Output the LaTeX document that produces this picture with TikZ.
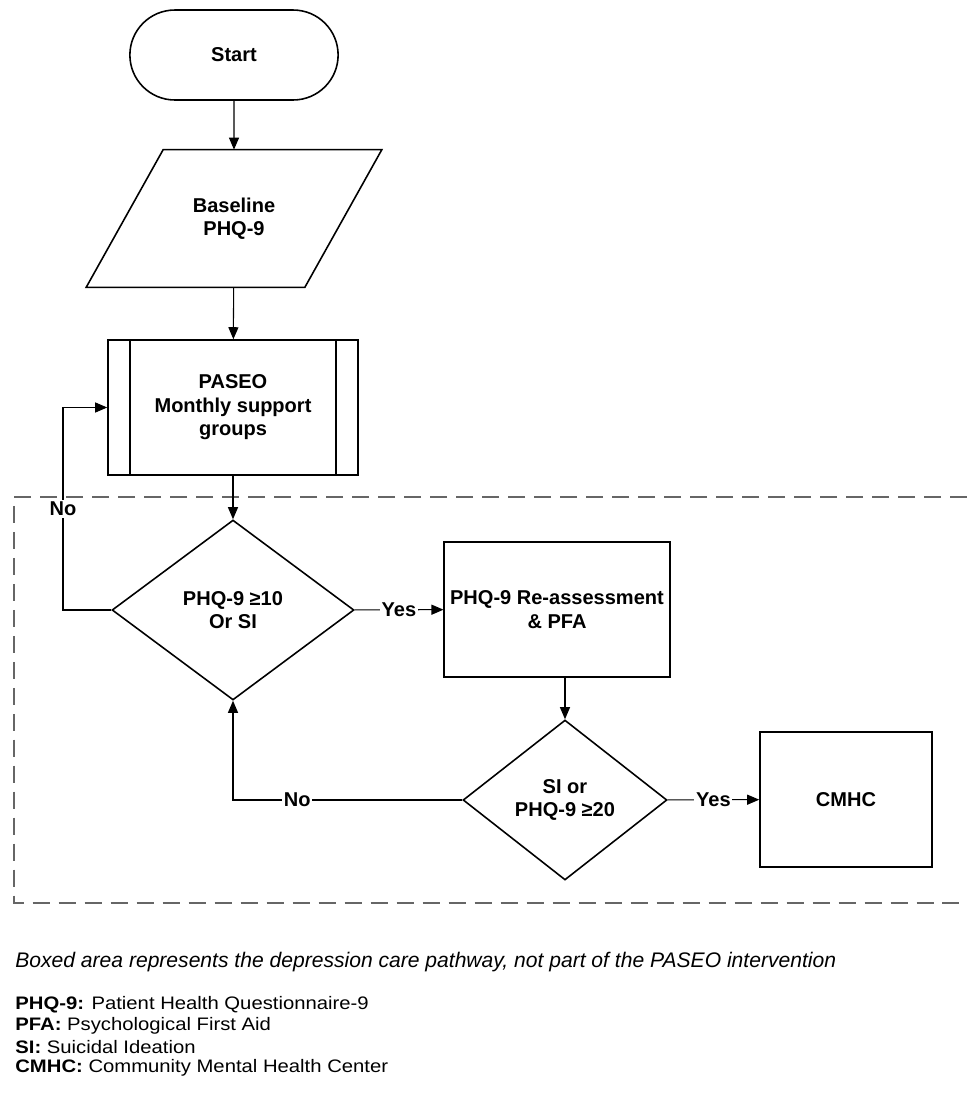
\documentclass[tikz,border=0pt]{standalone}
\usepackage{fontspec}
\setmainfont{Liberation Sans}
\newfontfamily\keyfont[FakeStretch=1.12]{Liberation Sans}
\usetikzlibrary{arrows.meta, shapes.geometric, shapes.misc, positioning}
\definecolor{pwGrey}{HTML}{666666}
\tikzset{
  lbl/.style       = {font=\bfseries\fontsize{11.4}{13.4}\selectfont},
  flowline/.style  = {-{Triangle[length=2.4mm, width=2mm]}, line width=0.6pt, black},
  shapeline/.style = {line width=0.9pt, black},
  terminal/.style  = {rounded rectangle, draw, shapeline, minimum width=4.4cm,
                      minimum height=1.8cm, lbl},
  inbox/.style     = {rectangle, minimum width=4.36cm, minimum height=2.74cm,
                      align=center, lbl},
  procbox/.style   = {rectangle, draw, shapeline, minimum height=2.7cm,
                      align=center, lbl},
  decision/.style  = {diamond, draw, shapeline, inner sep=0pt, align=center, lbl},
  edgelbl/.style   = {fill=white, inner sep=1pt, lbl},
  pathbox/.style   = {pwGrey, line width=1.1pt, dash pattern=on 0.34cm off 0.18cm},
  notetxt/.style   = {anchor=west, inner sep=0pt, font=\itshape\fontsize{12}{14}\selectfont},
  keytxt/.style    = {anchor=west, inner sep=0pt, font=\keyfont\fontsize{10.3}{12}\selectfont},
}

\begin{document}
\begin{tikzpicture}[x=0.02cm, y=-0.02cm]
\useasboundingbox (0,0) rectangle (967,1093);
% care pathway (dashed area)
\draw[pathbox] (967,497) -- (14,497) -- (14,903) -- (967,903);
% flow nodes
\node[terminal] (start) at (234,55) {Start};
\node[inbox] (base) at (234,218.5) {Baseline\\PHQ-9};
\draw[shapeline] ([xshift=0.77cm]base.north west) -- ([xshift=0.77cm]base.north east)
  -- ([xshift=-0.77cm]base.south east) -- ([xshift=-0.77cm]base.south west) -- cycle;
\node[procbox, minimum width=5cm] (grp) at (233,407.5) {PASEO\\Monthly support\\groups};
\draw[shapeline] ([xshift=0.46cm]grp.north west) -- ([xshift=0.46cm]grp.south west)
  ([xshift=-0.46cm]grp.north east) -- ([xshift=-0.46cm]grp.south east);
\node[decision, minimum width=4.84cm, minimum height=3.6cm] (dec1) at (233,610) {PHQ-9 ≥10\\Or SI};
\node[procbox, minimum width=4.4cm] (reas) at (557,609.5) {PHQ-9 Re-assessment\\\& PFA};
\node[decision, minimum width=4.08cm, minimum height=3.2cm] (dec2) at (565,800) {SI or\\PHQ-9 ≥20};
\node[procbox, minimum width=3.44cm] (cmhc) at (846,799.5) {CMHC};
% connectors
\coordinate (noturn) at (63,610);
\draw[flowline] (start) -- (base);
\draw[flowline] (base) -- (grp);
\draw[flowline] (grp) -- (dec1);
\draw[flowline] (dec1) -- node[edgelbl] {Yes} (reas);
\draw[flowline] (reas.south -| dec2.north) -- (dec2.north);
\draw[flowline] (dec2) -- node[edgelbl] {Yes} (cmhc);
\draw[flowline] (dec2.west) -- node[edgelbl, pos=0.72] {No} (dec2.west -| dec1.south) -- (dec1.south);
\draw[flowline] (dec1.west) -- (noturn) |- node[edgelbl, pos=0.25] {No} (grp.west);
% notes
\node[notetxt] (note) at (15,962) {Boxed area represents the depression care pathway, not part of the PASEO intervention};
\node[keytxt] (k1) at (15,1005) {\textbf{PHQ-9:} Patient Health Questionnaire-9};
\node[keytxt] (k2) at (15,1026) {\textbf{PFA:} Psychological First Aid};
\node[keytxt] (k3) at (15,1047) {\textbf{SI:} Suicidal Ideation};
\node[keytxt] (k4) at (15,1068) {\textbf{CMHC:} Community Mental Health Center};
\end{tikzpicture}
\end{document}
